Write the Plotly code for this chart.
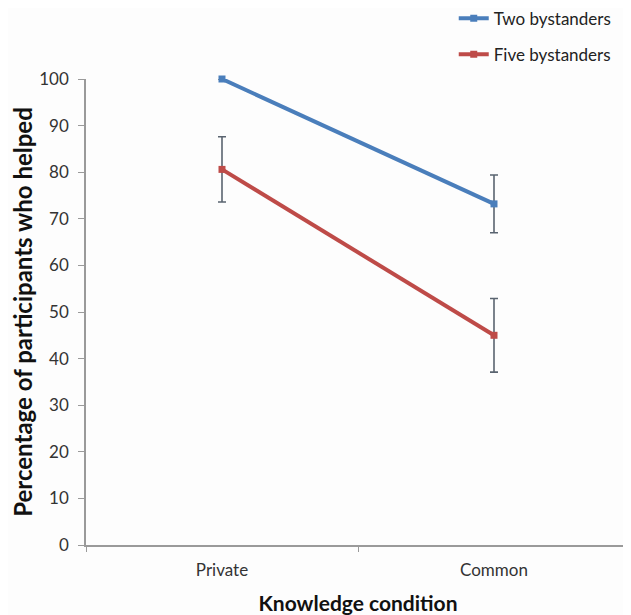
import plotly.graph_objects as go

conditions = ["Private", "Common"]
two_bystanders = [100, 73.2]
two_err = [0, 6.2]
five_bystanders = [80.6, 45.0]
five_err = [7.0, 7.9]
y_ticks = [0, 10, 20, 30, 40, 50, 60, 70, 80, 90, 100]

BLUE = "#4a7ebb"
RED = "#be4b48"
ERR = "#5a6470"
FONT = "Lato, 'Open Sans', sans-serif"

fig = go.Figure()
fig.add_trace(go.Scatter(
    x=conditions, y=two_bystanders, name="Two bystanders", mode="lines+markers",
    line=dict(color=BLUE, width=4), marker=dict(symbol="square", size=7, color=BLUE),
    error_y=dict(type="data", array=two_err, visible=True, color=ERR, thickness=1.6, width=4),
    legendgroup="a", cliponaxis=False,
))
fig.add_trace(go.Scatter(
    x=conditions, y=five_bystanders, name="Five bystanders", mode="lines+markers",
    line=dict(color=RED, width=4), marker=dict(symbol="square", size=7, color=RED),
    error_y=dict(type="data", array=five_err, visible=True, color=ERR, thickness=1.6, width=4),
    legendgroup="b", cliponaxis=False,
))

fig.update_layout(
    width=623, height=607,
    margin=dict(l=78, r=1, t=71, b=70, autoexpand=False),
    paper_bgcolor="#fdfdfd", plot_bgcolor="#fdfdfd",
    font=dict(family=FONT, color="#333333", size=14),
    legend=dict(x=0.676, y=1.168, yanchor="top", xanchor="left", yref="paper",
                bgcolor="rgba(0,0,0,0)", font=dict(size=17, color="#222222"),
                tracegroupgap=11, itemwidth=30),
    xaxis=dict(
        type="category", range=[-0.5, 1.5], showgrid=False,
        showline=True, linecolor="#9a9a9a", linewidth=1.5,
        ticks="outside", tickson="boundaries", ticklen=5, tickcolor="#9a9a9a",
        tickfont=dict(size=17, color="#333333"), ticklabelstandoff=9,
        title=dict(text="<b>Knowledge condition</b>", font=dict(size=21, color="#111111"), standoff=17),
    ),
    yaxis=dict(
        range=[0, 100], tickvals=y_ticks, showgrid=False, zeroline=False,
        showline=True, linecolor="#9a9a9a", linewidth=1.5,
        ticks="outside", ticklen=6, tickcolor="#9a9a9a",
        tickfont=dict(size=17, color="#333333"), ticklabelstandoff=6,
        title=dict(text="<b>Percentage of participants who helped</b>", font=dict(size=24, color="#111111"), standoff=8),
    ),
)

fig.write_html("out.html")
